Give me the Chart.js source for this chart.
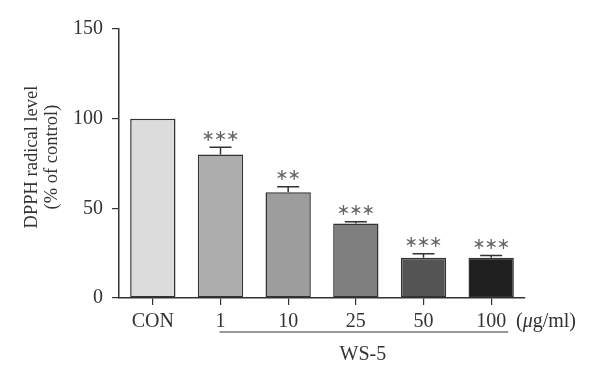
<!DOCTYPE html>
<html>
<head>
<meta charset="utf-8">
<script src="https://cdn.jsdelivr.net/npm/chart.js@4/dist/chart.umd.min.js"></script>
<style>
html,body{margin:0;padding:0;background:#fff;}
#wrap{width:600px;height:382px;position:relative;}
</style>
</head>
<body>
<div id="wrap"><canvas id="c" width="600" height="382"></canvas></div>
<script>
const categories = ['CON', '1', '10', '25', '50', '100'];
const means = [100, 80, 59, 41.5, 22.5, 22.5];
const errors = [0, 4, 3, 1, 2.2, 1.2];
const significance = ['', '***', '**', '***', '***', '***'];
const yTicks = [0, 50, 100, 150];
const yTitle = ['DPPH radical level', '(% of control)'];
const groupLabel = 'WS-5';
const unitLabelParts = ['(', '\u03BC', 'g/ml)'];

const barColors = ['#dcdcdc', '#adadad', '#9d9d9d', '#7f7f7f', '#545454', '#1f1f1f'];
const ink = '#333333';
const serif = "'Liberation Serif', 'DejaVu Serif', serif";

const extras = {
  id: 'extras',
  afterDatasetsDraw(chart) {
    const ctx = chart.ctx;
    const x = chart.scales.x, y = chart.scales.y;
    ctx.save();
    means.forEach((m, i) => {
      const cx = x.getPixelForValue(i);
      const top = y.getPixelForValue(m + errors[i]);
      const base = y.getPixelForValue(m);
      if (errors[i] > 0) {
        ctx.strokeStyle = ink; ctx.lineWidth = 1.5;
        ctx.beginPath();
        ctx.moveTo(cx, base); ctx.lineTo(cx, top);
        ctx.moveTo(cx - 11, top); ctx.lineTo(cx + 11, top);
        ctx.stroke();
      }
      const s = significance[i];
      if (s) {
        ctx.fillStyle = '#666';
        ctx.font = "16px 'DejaVu Sans', sans-serif";
        ctx.textAlign = 'center'; ctx.textBaseline = 'middle';
        const n = s.length, gap = 12.3;
        for (let k = 0; k < n; k++) {
          ctx.fillText('\u2217', cx + (k - (n - 1) / 2) * gap, top - 11);
        }
      }
    });
    ctx.restore();
  },
  afterDraw(chart) {
    const ctx = chart.ctx;
    const x = chart.scales.x;
    ctx.save();
    ctx.fillStyle = ink;
    ctx.textAlign = 'left'; ctx.textBaseline = 'middle';
    let ux = x.right - 9;
    unitLabelParts.forEach((p, k) => {
      ctx.font = (k === 1 ? 'italic ' : '') + '20px ' + serif;
      ctx.fillText(p, ux, 322);
      ux += ctx.measureText(p).width;
    });
    ctx.font = '20px ' + serif;
    const x1 = x.getPixelForValue(1) - 1;
    const x2 = x.getPixelForValue(categories.length - 1) + 17;
    ctx.strokeStyle = ink; ctx.lineWidth = 1.2;
    ctx.beginPath(); ctx.moveTo(x1, 332); ctx.lineTo(x2, 332); ctx.stroke();
    ctx.textAlign = 'center';
    ctx.fillText(groupLabel, (x.getPixelForValue(1) + x.getPixelForValue(categories.length - 1)) / 2 + 7, 355);
    ctx.font = '18.5px ' + serif;
    ctx.translate(0, 157);
    ctx.rotate(-Math.PI / 2);
    ctx.fillText(yTitle[0], 0, 32);
    ctx.fillText(yTitle[1], 0, 52);
    ctx.restore();
  }
};

new Chart(document.getElementById('c'), {
  type: 'bar',
  data: {
    labels: categories,
    datasets: [{
      data: means,
      backgroundColor: barColors,
      borderColor: ink,
      borderWidth: 1.5,
      borderSkipped: false,
      barPercentage: 0.67,
      categoryPercentage: 1.0
    }]
  },
  options: {
    responsive: false,
    animation: false,
    devicePixelRatio: 1,
    layout: { padding: { left: 0, right: 75, top: 29, bottom: 0 } },
    plugins: { legend: { display: false }, tooltip: { enabled: false } },
    scales: {
      x: {
        offset: true,
        grid: { display: true, offset: false, drawOnChartArea: false, drawTicks: true, tickLength: 7, color: ink, lineWidth: 1.2 },
        border: { display: true, color: ink, width: 1.5 },
        ticks: { color: ink, font: { family: serif, size: 20 }, padding: 5, maxRotation: 0, autoSkip: false },
        afterFit: s => { s.height = 84; }
      },
      y: {
        min: yTicks[0], max: yTicks[yTicks.length - 1],
        afterBuildTicks: s => { s.ticks = yTicks.map(v => ({ value: v })); },
        grid: { display: true, drawOnChartArea: false, drawTicks: true, tickLength: 7, color: ink, lineWidth: 1.2 },
        border: { display: true, color: ink, width: 1.5 },
        ticks: { color: ink, font: { family: serif, size: 20 }, padding: 9 },
        afterFit: s => { s.width = 119; }
      }
    }
  },
  plugins: [extras]
});
</script>
</body>
</html>
